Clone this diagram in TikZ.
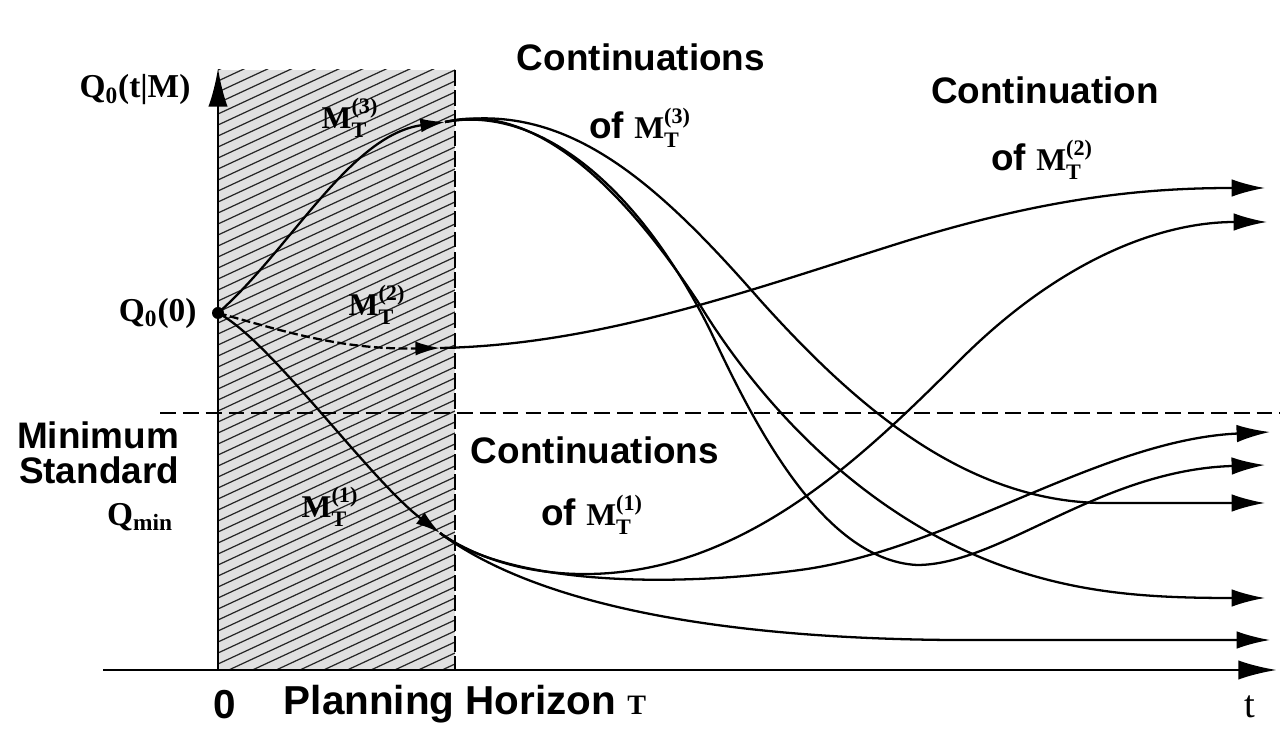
\documentclass[tikz,border=0pt]{standalone}
\usepackage{amsmath}
\usepackage{fontspec}
\setmainfont{Liberation Sans}
\newfontfamily\serifb{Liberation Serif}
\usetikzlibrary{arrows.meta,positioning}
\newcommand{\Mt}[1]{{\serifb\bfseries\fontsize{18}{20}\selectfont\(\text{M}^{\text{(#1)}}_{\text{T}}\)}}

\begin{document}
\begin{tikzpicture}[>=Latex,x=0.2mm,y=-0.2mm,
  every node/.style={font=\fontsize{21}{20}\selectfont\bfseries},
  qlab/.style={font=\serifb\bfseries\fontsize{19}{22}\selectfont},
  traj/.style={line width=1.3pt},
  endtip/.style={-{Latex[length=19pt,width=10pt]}},
  midtip/.style={-{Latex[length=14pt,width=8pt]}},
  axis/.style={line width=1.7pt,-{Latex[length=22pt,width=11pt]}},
  hatchline/.style={line width=0.7pt,black!85}]
\useasboundingbox (0,0) rectangle (1280,729);

% planning horizon (hatched)
\fill[black!12] (218,70) rectangle (455,670);
\begin{scope}
\clip (218,70) rectangle (455,670);
\foreach \k in {0,...,70}
  \draw[hatchline] (218,{70+11*\k}) -- (455,{70+11*\k-110});
\end{scope}
\draw[line width=1.2pt,dash pattern=on 9pt off 2.5pt] (455,70) -- (455,670);

% axes
\coordinate (o) at (218,670);
\coordinate (ytop) at (218,68);
\coordinate (xl) at (103,670);
\coordinate (xr) at (1277,670);
\draw[axis] (xl) -- (xr);
\draw[axis] (o) -- (ytop);

% minimum standard
\coordinate (qminl) at (160,413);
\coordinate (qminr) at (1280,413);
\draw[line width=1.4pt,dash pattern=on 9pt off 4pt] (qminl) -- (qminr);

% start point and end of horizon
\node[circle,fill,inner sep=0pt,minimum size=2.4mm] (dot) at (218,313) {};
\coordinate (m3) at (445,122);
\coordinate (m2) at (440,348);
\coordinate (m1) at (440,533);

% arrow ends
\coordinate (e2) at (1265,188);
\coordinate (e1a) at (1267,222);
\coordinate (e1b) at (1270,432);
\coordinate (e3q) at (1265,465);
\coordinate (e3p) at (1265,503);
\coordinate (e3r) at (1265,598);
\coordinate (e1c) at (1270,640);

% paths inside the horizon
\draw[traj,midtip] (dot.center) .. controls (290,250) and (350,135) .. (m3);
\draw[traj,midtip,dash pattern=on 5pt off 2pt] (dot.center) .. controls (280,330) and (340,350) .. (m2);
\draw[traj,midtip] (dot.center) .. controls (270,340) and (370,480) .. (m1);

% continuations
\draw[traj,endtip] (m2) .. controls (600,345) and (750,290) .. (900,243) .. controls (1050,196) and (1150,188) .. (e2);
\draw[traj,endtip] (m3) .. controls (565,100) and (655,180) .. (760,300) .. controls (850,400) and (960,500) .. (1100,503) -- (e3p);
\draw[traj,endtip] (m3) .. controls (535,105) and (635,180) .. (710,330) .. controls (750,415) and (820,560) .. (917,565) .. controls (1000,565) and (1100,470) .. (e3q);
\draw[traj,endtip] (m3) .. controls (535,100) and (625,190) .. (700,305) .. controls (750,387) and (850,510) .. (1000,565) .. controls (1080,594) and (1150,598) .. (e3r);
\draw[traj,endtip] (m1) .. controls (500,575) and (600,590) .. (700,553) .. controls (800,516) and (880,440) .. (960,360) .. controls (1060,260) and (1160,222) .. (e1a);
\draw[traj,endtip] (m1) .. controls (500,580) and (650,590) .. (800,570) .. controls (950,550) and (1100,440) .. (e1b);
\draw[traj,endtip] (m1) .. controls (530,600) and (700,638) .. (950,640) -- (e1c);

% labels
\node[qlab] (ylab) at (135,90) {Q\textsubscript{0}(t|M)};
\node[qlab,left=1.8mm of dot] (q0lab) {Q\textsubscript{0}(0)};
\node[align=right] (minstd) at (98,453) {Minimum\\Standard};
\node[qlab] (qmin) at (140,517) {Q\textsubscript{min}};
\node[font=\fontsize{23}{24}\selectfont\bfseries] (zero) at (225,705) {0};
\node[font=\fontsize{23}{24}\selectfont\bfseries] (plan) at (465,704) {Planning Horizon {\serifb\bfseries\fontsize{16}{18}\selectfont T}};
\node[font=\serifb\fontsize{22}{24}\selectfont] (tlab) at (1250,707) {t};
\node (m3lab) at (350,118) {\Mt{3}};
\node (m2lab) at (377,305) {\Mt{2}};
\node (m1lab) at (330,507) {\Mt{1}};
\node (cont3) at (641,57) {Continuations};
\node (of3) at (640,128) {of \Mt{3}};
\node (cont2) at (1045,90) {Continuation};
\node (of2) at (1042,160) {of \Mt{2}};
\node (cont1) at (595,450) {Continuations};
\node (of1) at (592,515) {of \Mt{1}};
\end{tikzpicture}
\end{document}
